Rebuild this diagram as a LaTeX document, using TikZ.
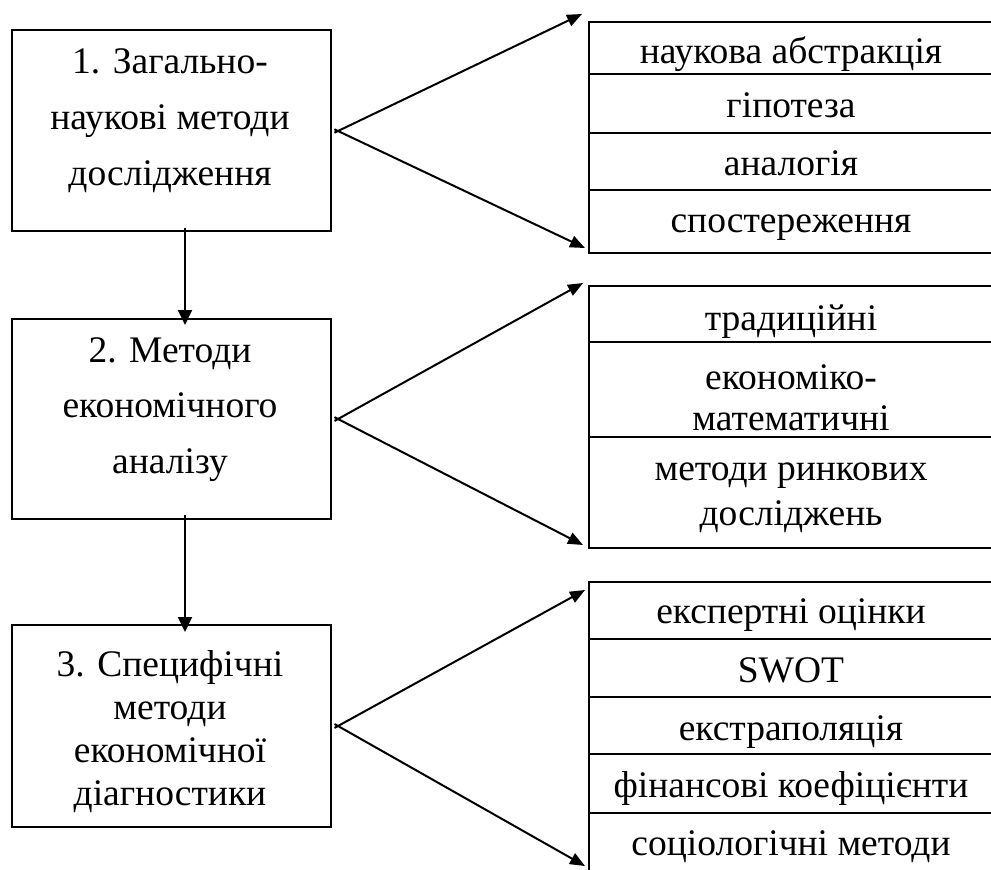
\documentclass[tikz,border=0pt]{standalone}
\usepackage{fontspec}
\setmainfont{Liberation Serif}
\usetikzlibrary{arrows.meta,calc}
\begin{document}
\begin{tikzpicture}[x=1pt,y=-1pt,
  lw/.style={line width=2pt},
  mainbox/.style={draw,lw,rectangle,minimum width=319pt,minimum height=201pt,inner sep=0pt,anchor=north west},
  rowbox/.style={draw,lw,rectangle,minimum width=406pt,inner sep=0pt,anchor=north west},
  txt/.style={font=\fontsize{37.5}{56}\selectfont,align=center,anchor=base,inner sep=0pt},
  fan/.style={lw,-{Triangle[length=15pt,width=12pt]},shorten <=-4pt},
  downarr/.style={lw,-{Triangle[length=15pt,width=14pt]}},
]
\clip (0,0) rectangle (991,870);
\fill[white] (0,0) rectangle (991,870);

% left boxes
\node[mainbox] (b1) at (11,29) {};
\node[mainbox,minimum height=200pt] (b2) at (11,318) {};
\node[mainbox,minimum height=202pt] (b3) at (11,624) {};

\node[txt,font=\fontsize{37.5}{56}\selectfont] (t1) at (170,185) {1. Загально-\\наукові методи\\дослідження};
\node[txt,font=\fontsize{37.5}{55.5}\selectfont] (t2) at (170,473) {2. Методи\\економічного\\аналізу};
\node[txt,font=\fontsize{37.5}{42.7}\selectfont] (t3) at (170,805) {3. Специфічні\\методи\\економічної\\діагностики};

% right group 1
\node[rowbox,minimum height=52pt] (r11) at (588,21) {};
\node[rowbox,minimum height=59pt] (r12) at (588,73) {};
\node[rowbox,minimum height=57pt] (r13) at (588,132) {};
\node[rowbox,minimum height=63pt] (r14) at (588,189) {};
\node[txt] (s11) at (791,63) {наукова абстракція};
\node[txt] (s12) at (791,117) {гіпотеза};
\node[txt] (s13) at (791,175) {аналогія};
\node[txt] (s14) at (791,232) {спостереження};

% right group 2
\node[rowbox,minimum height=56pt] (r21) at (588,285) {};
\node[rowbox,minimum height=95pt] (r22) at (588,341) {};
\node[rowbox,minimum height=111pt] (r23) at (588,436) {};
\node[txt] (s21) at (791,330) {традиційні};
\node[txt,font=\fontsize{37.5}{41}\selectfont] (s22) at (791,430) {економіко-\\математичні};
\node[txt,font=\fontsize{37.5}{45}\selectfont] (s23) at (791,525) {методи ринкових\\досліджень};

% right group 3
\node[rowbox,minimum height=57pt] (r31) at (588,581) {};
\node[rowbox,minimum height=58pt] (r32) at (588,638) {};
\node[rowbox,minimum height=57pt] (r33) at (588,696) {};
\node[rowbox,minimum height=59pt] (r34) at (588,753) {};
\node[rowbox,minimum height=62pt] (r35) at (588,812) {};
\node[txt] (s31) at (791,623) {експертні оцінки};
\node[txt] (s32) at (791,682) {SWOT};
\node[txt] (s33) at (791,740) {екстраполяція};
\node[txt] (s34) at (791,797) {фінансові коефіцієнти};
\node[txt] (s35) at (791,855) {соціологічні методи};

% fan coordinates
\coordinate (a1) at (338,131);
\coordinate (a2) at (338,419);
\coordinate (a3) at (338,726);
\coordinate (p1t) at (582,14);
\coordinate (p1b) at (585,248);
\coordinate (p2t) at (583,283);
\coordinate (p2b) at (583,545);
\coordinate (p3t) at (585,590);
\coordinate (p3b) at (585,866);

\draw[fan] (a1) -- (p1t);
\draw[fan] (a1) -- (p1b);
\draw[fan] (a2) -- (p2t);
\draw[fan] (a2) -- (p2b);
\draw[fan] (a3) -- (p3t);
\draw[fan] (a3) -- (p3b);

% vertical arrows
\draw[downarr] ([xshift=13.5pt,yshift=4pt]b1.south) -- ([xshift=13.5pt,yshift=-7pt]b2.north);
\draw[downarr] ([xshift=13.5pt,yshift=5pt]b2.south) -- ([xshift=13.5pt,yshift=-8pt]b3.north);
\end{tikzpicture}
\end{document}
